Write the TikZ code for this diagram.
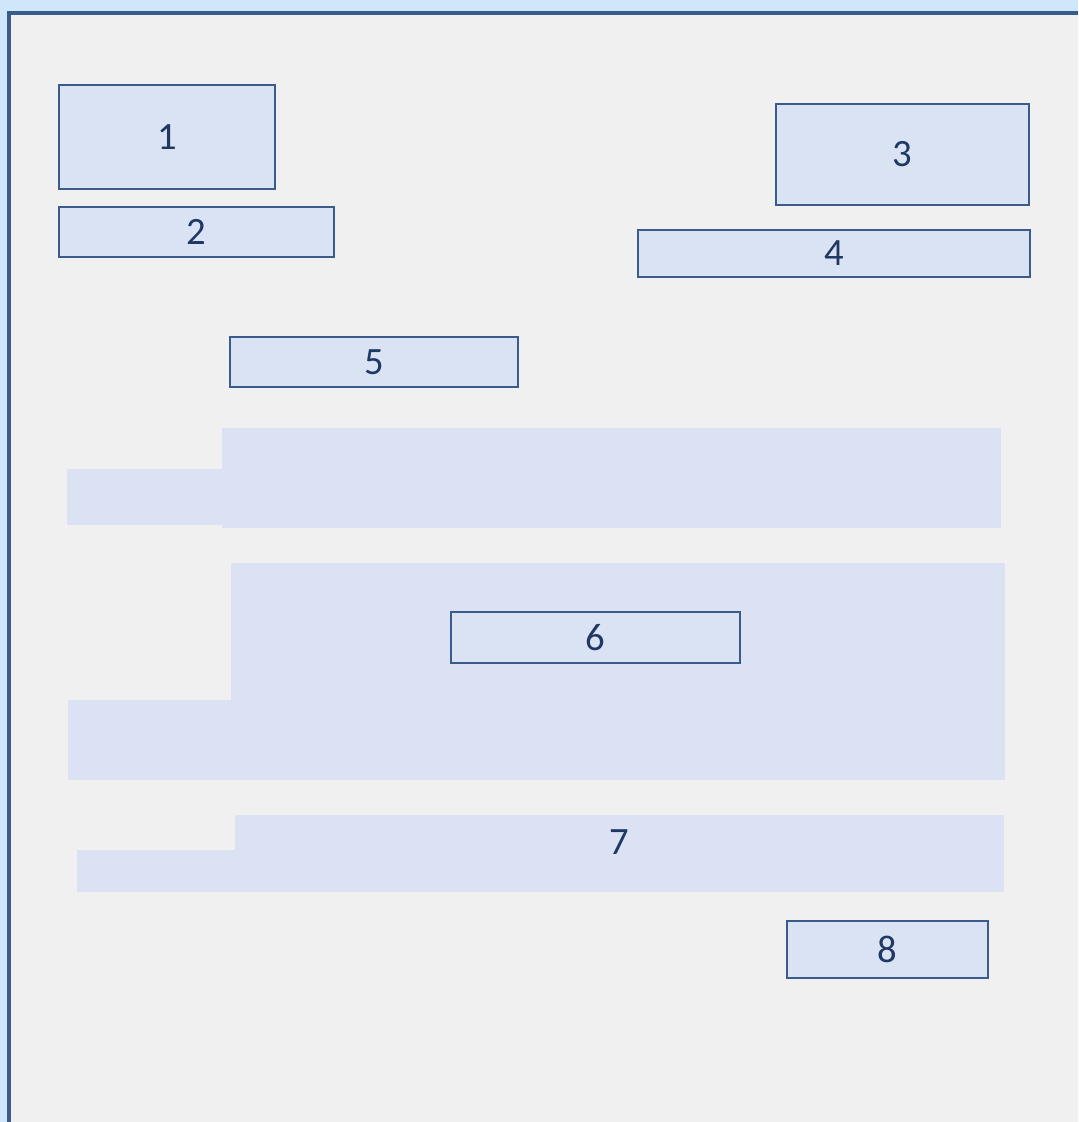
\documentclass[tikz,border=0pt]{standalone}
\usepackage{fontspec}
\setmainfont{Carlito}
\definecolor{frameblue}{HTML}{CFE7FA}
\definecolor{panelgray}{HTML}{F0F0F0}
\definecolor{edgeblue}{HTML}{3A5B8C}
\definecolor{boxfill}{HTML}{DAE3F3}
\definecolor{bandfill}{HTML}{DAE2F3}
\definecolor{labelnavy}{HTML}{1F3864}

\tikzset{
  slot/.style={draw=edgeblue, fill=boxfill, line width=1.1pt, inner sep=0pt,
    text=labelnavy, font=\fontsize{22}{26}\selectfont},
  band/.style={fill=bandfill}
}

\begin{document}
\begin{tikzpicture}
  \useasboundingbox (0, 0) rectangle (21.56, -22.44);
  \fill[frameblue] (0, 0) rectangle (21.56, -22.44);
  \fill[panelgray] (0.18, -0.26) rectangle (21.56, -22.44);
  \draw[edgeblue, line width=1.8pt] (0.18, -22.44) -- (0.18, -0.26) -- (21.56, -0.26);

  % shaded bands
  \fill[band] (4.44, -8.56) rectangle (20.02, -10.56);
  \fill[band] (1.34, -9.38) rectangle (4.44, -10.50);
  \fill[band] (4.62, -11.26) rectangle (20.10, -15.60);
  \fill[band] (1.36, -14.00) rectangle (4.62, -15.60);
  \fill[band] (4.70, -16.30) rectangle (20.08, -17.84);
  \fill[band] (1.54, -17.00) rectangle (4.70, -17.84);

  \node[slot, minimum width=4.32cm, minimum height=2.08cm] (one) at (3.34, -2.74) {1};
  \node[slot, minimum width=5.50cm, minimum height=1.00cm] (two) at (3.93, -4.64) {2};
  \node[slot, minimum width=5.06cm, minimum height=2.02cm] (three) at (18.05, -3.09) {3};
  \node[slot, minimum width=7.84cm, minimum height=0.94cm] (four) at (16.68, -5.07) {4};
  \node[slot, minimum width=5.76cm, minimum height=1.00cm] (five) at (7.48, -7.24) {5};
  \node[slot, minimum width=5.78cm, minimum height=1.02cm] (six) at (11.91, -12.75) {6};
  \node[text=labelnavy, font=\fontsize{22}{26}\selectfont] (seven) at (12.38, -16.84) {7};
  \node[slot, minimum width=4.02cm, minimum height=1.14cm] (eight) at (17.75, -18.99) {8};
\end{tikzpicture}
\end{document}
